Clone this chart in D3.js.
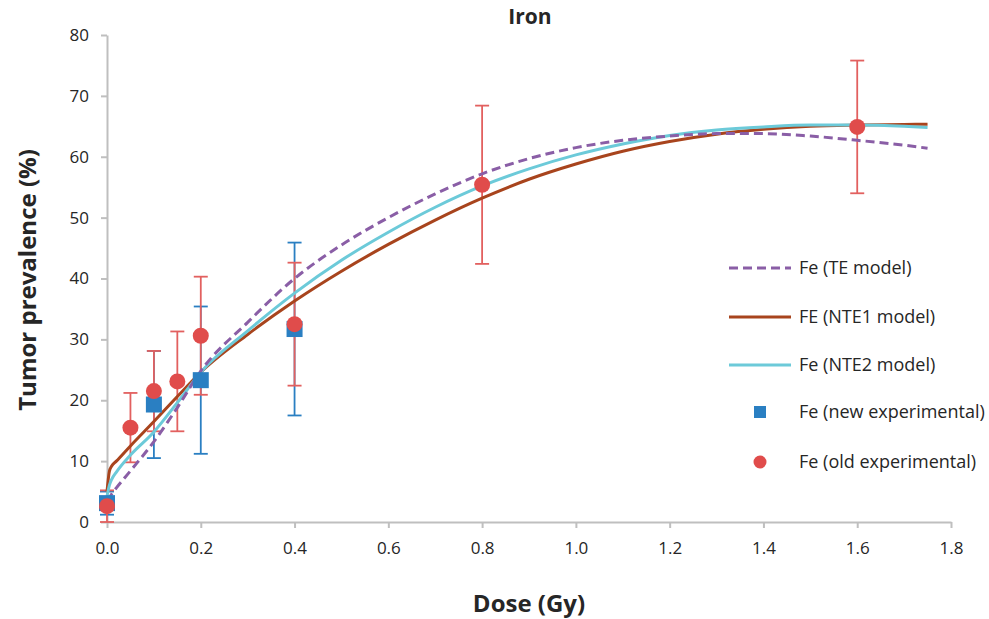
<!DOCTYPE html>
<html>
<head>
<meta charset="utf-8">
<script src="https://cdn.jsdelivr.net/npm/d3@7"></script>
<style>
    body { margin: 0; background: #fff; }
    svg text { font-family: "Open Sans", "Noto Sans", sans-serif; fill: #262626; }
    .axis path, .axis line { stroke: #bfbfbf; stroke-width: 2; }
    .axis text { font-size: 17px; fill: #262626; }
    .title { font-size: 21px; font-weight: bold; }
    .axis-title { font-size: 24px; font-weight: bold; }
    .legend text { font-size: 18px; }
</style>
</head>
<body>
<div id="chart"></div>
<script>
// doses for the model curves
const modelDose = [0, 0.005, 0.01, 0.02, 0.05, 0.1, 0.15, 0.2, 0.3, 0.4, 0.5, 0.6, 0.7, 0.8, 0.9, 1.0, 1.1, 1.2, 1.3, 1.4, 1.5, 1.6, 1.7, 1.75];
const teModel   = [3.5, 4.0, 4.6, 5.6, 8.4, 13.2, 18.8, 24.8, 32.8, 40.0, 45.5, 50.0, 53.9, 57.2, 59.7, 61.5, 62.7, 63.4, 63.8, 63.8, 63.4, 62.7, 61.9, 61.4];
const nte1Model = [5.0, 8.3, 9.2, 10.0, 12.5, 16.5, 20.6, 24.6, 30.8, 36.3, 41.2, 45.6, 49.6, 53.2, 56.3, 58.8, 60.9, 62.5, 63.7, 64.5, 65.0, 65.2, 65.3, 65.35];
const nte2Model = [4.2, 6.0, 7.0, 8.2, 11.0, 14.8, 19.6, 24.6, 31.4, 37.6, 43.0, 47.6, 51.7, 55.2, 58.0, 60.3, 62.1, 63.5, 64.4, 64.9, 65.2, 65.2, 65.0, 64.8];

// new experimental points (blue squares)
const newDose = [0, 0.1, 0.2, 0.4];
const newPrev = [3.1, 19.3, 23.3, 31.7];
const newErr  = [1.9, 8.8, 12.1, 14.2];

// old experimental points (red circles)
const oldDose = [0, 0.05, 0.1, 0.15, 0.2, 0.4, 0.8, 1.6];
const oldPrev = [2.6, 15.5, 21.5, 23.1, 30.6, 32.5, 55.4, 64.9];
const oldErr  = [2.6, 5.7, 6.6, 8.2, 9.7, 10.1, 13.0, 10.9];

const xTicks = [0, 0.2, 0.4, 0.6, 0.8, 1.0, 1.2, 1.4, 1.6, 1.8];
const yTicks = [0, 10, 20, 30, 40, 50, 60, 70, 80];

const legendLabels = ["Fe (TE model)", "FE (NTE1 model)", "Fe (NTE2 model)", "Fe (new experimental)", "Fe (old experimental)"];

const colTE = "#8a5ea6", colNTE1 = "#a8441d", colNTE2 = "#6ccad9";
const colNew = "#2a7fc2", colOld = "#e04c4b", colOldBar = "#e2605f";

const width = 989, height = 619;
const margin = {left: 107, right: 38, top: 35, bottom: 97};

const svg = d3.select("#chart").append("svg")
    .attr("width", width)
    .attr("height", height);

const x = d3.scaleLinear().domain([0, 1.8]).range([margin.left, width - margin.right]);
const y = d3.scaleLinear().domain([0, 80]).range([height - margin.bottom, margin.top]);

// axes
svg.append("g")
    .attr("class", "axis")
    .attr("transform", "translate(0," + y(0) + ")")
    .call(d3.axisBottom(x).tickValues(xTicks).tickFormat(d3.format(".1f")).tickSize(6).tickSizeOuter(0).tickPadding(14));

svg.append("g")
    .attr("class", "axis")
    .attr("transform", "translate(" + x(0) + ",0)")
    .call(d3.axisLeft(y).tickValues(yTicks).tickSize(6).tickSizeOuter(0).tickPadding(12));

svg.selectAll(".axis .domain").attr("stroke", "#bfbfbf");

// titles
svg.append("text").attr("class", "title")
    .attr("x", 530).attr("y", 24).attr("text-anchor", "middle").text("Iron");
svg.append("text").attr("class", "axis-title")
    .attr("x", 529).attr("y", 612).attr("text-anchor", "middle").text("Dose (Gy)");
svg.append("text").attr("class", "axis-title")
    .attr("transform", "translate(36," + 280 + ") rotate(-90)")
    .attr("text-anchor", "middle").text("Tumor prevalence (%)");

// error bars
function errorBars(dose, prev, err, color) {
    const g = svg.append("g").attr("stroke", color).attr("stroke-width", 1.8);
    dose.forEach(function (d, i) {
        const lo = Math.max(prev[i] - err[i], 0), hi = prev[i] + err[i];
        g.append("line").attr("x1", x(d)).attr("x2", x(d)).attr("y1", y(lo)).attr("y2", y(hi));
        g.append("line").attr("x1", x(d) - 7).attr("x2", x(d) + 7).attr("y1", y(lo)).attr("y2", y(lo));
        g.append("line").attr("x1", x(d) - 7).attr("x2", x(d) + 7).attr("y1", y(hi)).attr("y2", y(hi));
    });
}
errorBars(newDose, newPrev, newErr, colNew);
errorBars(oldDose, oldPrev, oldErr, colOldBar);

// model curves
const line = d3.line()
    .x(function (d) { return x(d[0]); })
    .y(function (d) { return y(d[1]); })
    .curve(d3.curveMonotoneX);

function curve(vals, color, dash) {
    svg.append("path")
        .datum(modelDose.map(function (d, i) { return [d, vals[i]]; }))
        .attr("fill", "none")
        .attr("stroke", color)
        .attr("stroke-width", 3)
        .attr("stroke-dasharray", dash)
        .attr("d", line);
}
curve(nte1Model, colNTE1, null);
curve(nte2Model, colNTE2, null);
curve(teModel, colTE, "9,5");

// markers
svg.append("g").selectAll("rect")
    .data(newDose)
    .enter().append("rect")
    .attr("x", function (d) { return x(d) - 8; })
    .attr("y", function (d, i) { return y(newPrev[i]) - 8; })
    .attr("width", 16).attr("height", 16)
    .attr("fill", colNew);

svg.append("g").selectAll("circle")
    .data(oldDose)
    .enter().append("circle")
    .attr("cx", function (d) { return x(d); })
    .attr("cy", function (d, i) { return y(oldPrev[i]); })
    .attr("r", 8)
    .attr("fill", colOld);

// legend
const legend = svg.append("g").attr("class", "legend");
const legY = [268, 317, 365, 412, 462];
[colTE, colNTE1, colNTE2].forEach(function (c, i) {
    legend.append("line")
        .attr("x1", 729).attr("x2", 791)
        .attr("y1", legY[i]).attr("y2", legY[i])
        .attr("stroke", c).attr("stroke-width", 3)
        .attr("stroke-dasharray", i === 0 ? "9,5" : null);
});
legend.append("rect").attr("x", 754).attr("y", legY[3] - 6).attr("width", 12).attr("height", 12).attr("fill", colNew);
legend.append("circle").attr("cx", 760).attr("cy", legY[4]).attr("r", 6.5).attr("fill", colOld);
legendLabels.forEach(function (t, i) {
    legend.append("text").attr("x", 799).attr("y", legY[i]).attr("dy", "0.35em").text(t);
});
</script>
</body>
</html>
